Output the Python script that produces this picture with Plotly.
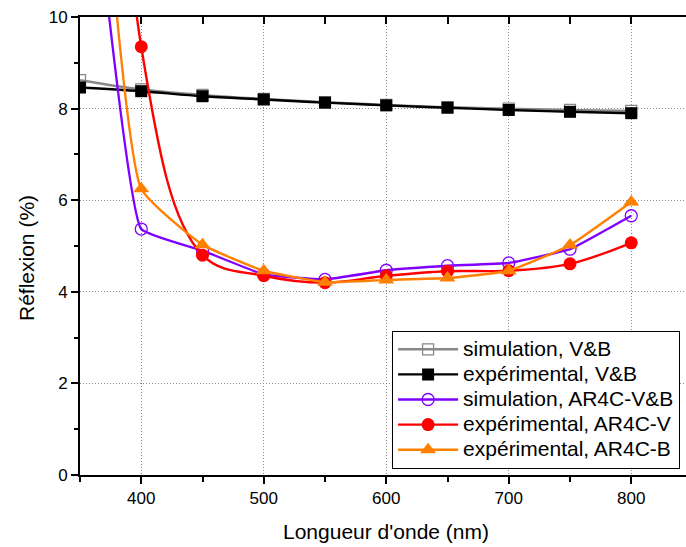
import plotly.graph_objects as go

# Wavelength sampling (nm)
wavelength = [350, 400, 450, 500, 550, 600, 650, 700, 750, 800]

# Reflection (%) for each sample
sim_vb = [8.62, 8.42, 8.30, 8.21, 8.14, 8.08, 8.03, 8.00, 7.97, 7.95]
exp_vb = [8.46, 8.38, 8.27, 8.20, 8.13, 8.07, 8.02, 7.97, 7.93, 7.90]
sim_ar4c_vb = [16.0, 5.37, 4.90, 4.38, 4.27, 4.47, 4.57, 4.63, 4.93, 5.66]
exp_ar4c_v = [45.0, 9.35, 4.80, 4.35, 4.20, 4.35, 4.45, 4.46, 4.61, 5.07]
exp_ar4c_b = [20.0, 6.25, 5.03, 4.46, 4.21, 4.26, 4.30, 4.46, 5.02, 5.96]

# name, values, colour, marker symbol, marker size, spline smoothing
series = [
    ("simulation, V&B", sim_vb, "#888888", "square-open", 11, 1.0),
    ("expérimental, V&B", exp_vb, "#000000", "square", 12, 1.0),
    ("simulation, AR4C-V&B", sim_ar4c_vb, "#8000ff", "circle-open", 12, 0.3),
    ("expérimental, AR4C-V", exp_ar4c_v, "#ff0000", "circle", 13, 1.0),
    ("expérimental, AR4C-B", exp_ar4c_b, "#ff8000", "triangle-up", 14, 0.4),
]

FONT = "Liberation Sans, Arial, sans-serif"

fig = go.Figure()
for name, vals, color, symbol, size, smooth in series:
    fig.add_trace(go.Scatter(
        x=wavelength, y=vals, mode="lines+markers",
        name=f'<span style="font-size:21px">{name}</span>',
        line=dict(color=color, width=2.4, shape="spline", smoothing=smooth),
        marker=dict(symbol=symbol, size=size, color=color,
                    line=dict(color=color, width=1.3 if "open" in symbol else 0)),
        cliponaxis=True,
    ))

# invisible trace so the top axis (inward ticks) gets drawn
fig.add_trace(go.Scatter(x=[600], y=[5], xaxis="x2", mode="markers",
                         marker=dict(opacity=0), showlegend=False, hoverinfo="skip"))

X_MAX = 350 + 606 / 1.225
GRID = dict(showgrid=True, gridcolor="#8a8a8a", griddash="1px,2px", gridwidth=1)

fig.update_layout(
    width=686, height=547,
    margin=dict(l=80, r=0, t=17, b=72, autoexpand=False),
    paper_bgcolor="white", plot_bgcolor="white",
    font=dict(family=FONT, size=17, color="black"),
    showlegend=True,
    xaxis=dict(
        range=[350, X_MAX], tickmode="array", tickvals=[400, 500, 600, 700, 800],
        ticks="outside", ticklen=7, tickwidth=1.5, tickcolor="black",
        minor=dict(tickvals=[350, 450, 550, 650, 750], ticks="outside", ticklen=5,
                   tickwidth=1.5, tickcolor="black", showgrid=False),
        showline=True, linecolor="black", linewidth=2,
        zeroline=False, tickfont=dict(size=17), **GRID,
    ),
    xaxis2=dict(
        overlaying="x", side="top", range=[350, X_MAX], matches="x",
        tickvals=[400, 450, 500, 550, 600, 650, 700, 750, 800],
        ticks="inside", ticklen=7, tickwidth=1.5, tickcolor="black",
        showticklabels=False, showline=True, linecolor="black", linewidth=2,
        showgrid=False, zeroline=False,
    ),
    yaxis=dict(
        range=[0, 10], tickvals=[0, 2, 4, 6, 8, 10],
        ticks="outside", ticklen=7, tickwidth=1.5, tickcolor="black",
        minor=dict(tickvals=[1, 3, 5, 7, 9], ticks="outside", ticklen=4,
                   tickwidth=1.5, tickcolor="black", showgrid=False),
        showline=True, linecolor="black", linewidth=2,
        zeroline=False, tickfont=dict(size=17), **GRID,
    ),
    legend=dict(
        x=0.515, y=0.315, xanchor="left", yanchor="top",
        bgcolor="white", bordercolor="black", borderwidth=1,
        font=dict(family=FONT, size=17), itemwidth=60, tracegroupgap=0,
    ),
    annotations=[
        dict(text="Longueur d'onde (nm)", xref="paper", yref="paper",
             x=(386 - 80) / 606, y=-(531 - 475) / 458, xanchor="center", yanchor="middle",
             showarrow=False, font=dict(family=FONT, size=21)),
        dict(text="Réflexion (%)", xref="paper", yref="paper",
             x=-(80 - 26) / 606, y=(475 - 258) / 458, xanchor="center", yanchor="middle",
             textangle=-90, showarrow=False, font=dict(family=FONT, size=21)),
    ],
)

fig.write_html("out.html")
